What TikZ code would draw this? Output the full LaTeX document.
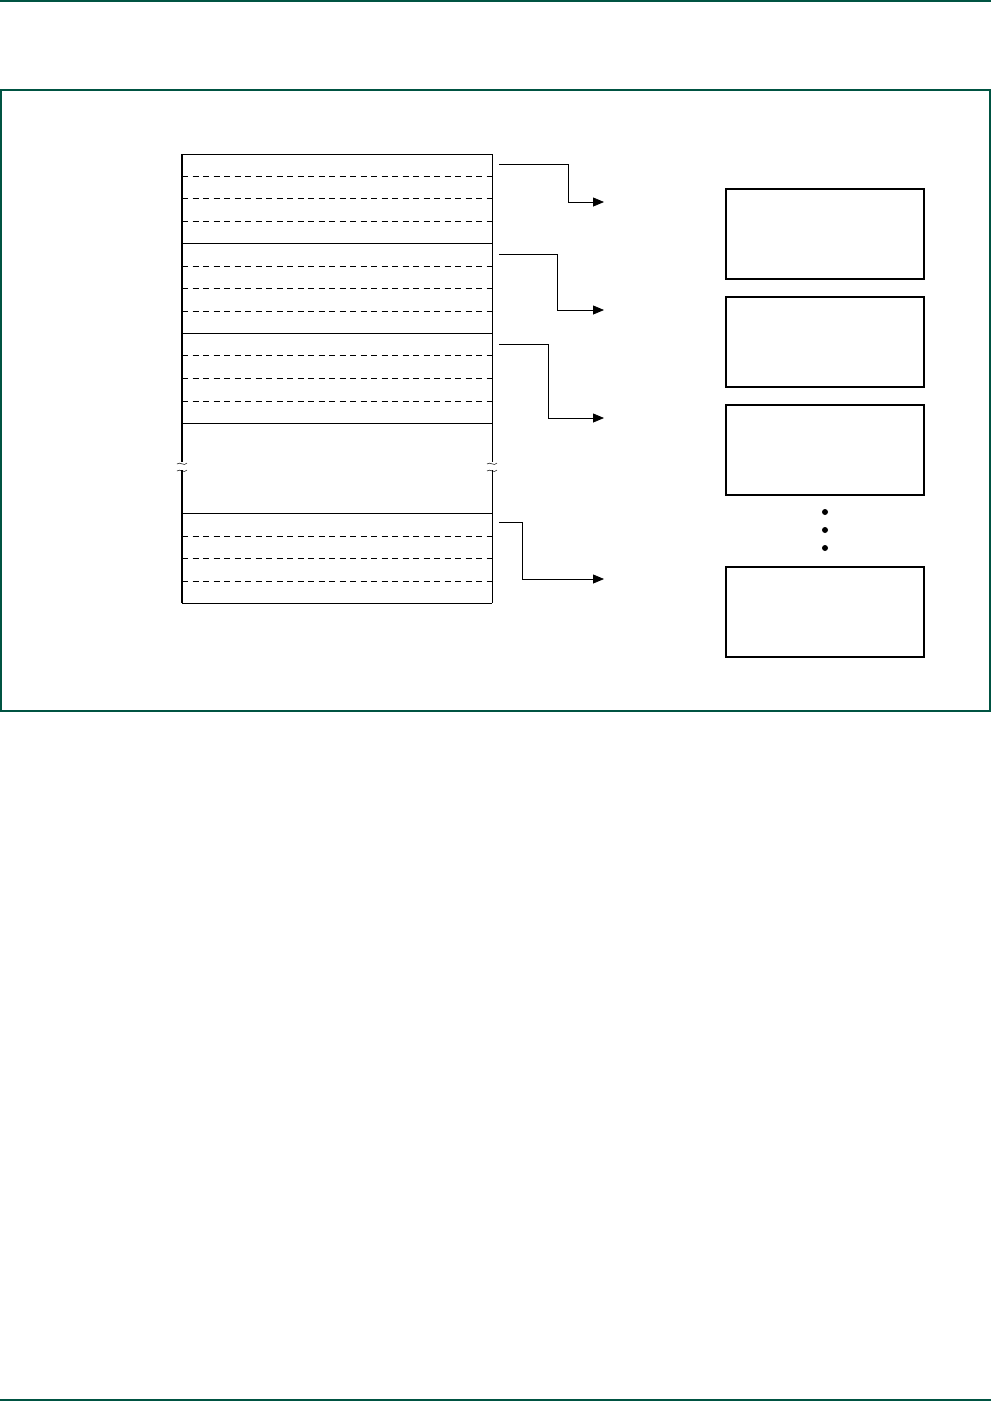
\documentclass[tikz,border=0pt]{standalone}
\usetikzlibrary{arrows.meta, positioning}
\definecolor{framegreen}{RGB}{0,84,66}

\begin{document}
\begin{tikzpicture}[
    x=1pt, y=-1pt,
    frame/.style={draw=framegreen, line width=1.3pt},
    rowline/.style={draw=black, line width=0.7pt},
    rowdash/.style={draw=black, line width=0.6pt, dash pattern=on 6pt off 4.5pt},
    block/.style={draw=black, line width=1.2pt, minimum width=198pt, minimum height=90pt, inner sep=0pt},
    link/.style={-{Triangle[length=11pt, width=9pt]}, line width=0.8pt},
]
    \useasboundingbox (0,0) rectangle (991,1401);

    % Page rules and outer frame
    \draw[frame] (0,1) -- (991,1);
    \draw[frame] (0,1400) -- (991,1400);
    \draw[frame] (1,90) rectangle (990,711);

    % Table outline (with break)
    \draw[line width=1.6pt] (182,154) -- (182,462);
    \draw[line width=1.6pt] (182,470) -- (182,603);
    \draw[rowline] (492,154) -- (492,462);
    \draw[rowline] (492,470) -- (492,603);
    \draw[line width=0.5pt] (177,464) .. controls (180,461) and (184,467) .. (187,463);
    \draw[line width=0.5pt] (177,471) .. controls (180,468) and (184,474) .. (187,470);
    \draw[line width=0.5pt] (487,464) .. controls (490,461) and (494,467) .. (497,463);
    \draw[line width=0.5pt] (487,471) .. controls (490,468) and (494,474) .. (497,470);

    % Solid group lines
    \foreach \y in {154,243,333,423,513,603}
        \draw[rowline] (182,\y) -- (492,\y);
    % Dashed entry lines
    \foreach \y in {176,198,221,266,288,311,355,378,401,536,558,581}
        \draw[rowdash] (182,\y) -- (492,\y);

    % Target blocks
    \node[block] (blkA) at (825,234) {};
    \node[block] (blkB) at (825,342) {};
    \node[block] (blkC) at (825,450) {};
    \node[block] (blkD) at (825,612) {};

    % Ellipsis dots
    \fill (825,512) circle (3pt);
    \fill (825,530) circle (3pt);
    \fill (825,548) circle (3pt);

    % Pointer arrows
    \coordinate (srcA) at (499,164);
    \coordinate (srcB) at (499,254);
    \coordinate (srcC) at (499,344);
    \coordinate (srcD) at (499,522);
    \coordinate (dstA) at (604,202);
    \coordinate (dstB) at (604,310);
    \coordinate (dstC) at (604,418);
    \coordinate (dstD) at (604,579);
    \draw[link] (srcA) -- (568,164) |- (dstA);
    \draw[link] (srcB) -- (557,254) |- (dstB);
    \draw[link] (srcC) -- (548,344) |- (dstC);
    \draw[link] (srcD) -- (522,522) |- (dstD);
\end{tikzpicture}
\end{document}
